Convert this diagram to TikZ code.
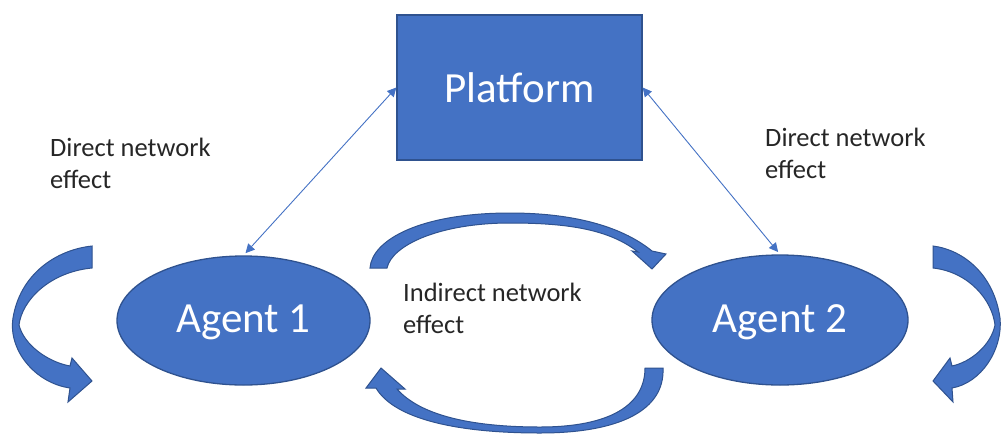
\documentclass[tikz,border=0pt]{standalone}
\usepackage{fontspec}
\setmainfont{Carlito}
\usetikzlibrary{shapes.geometric,arrows.meta}
\definecolor{bfill}{HTML}{4472C4}
\definecolor{bedge}{HTML}{2F528F}
\tikzset{
  bigtxt/.style={text=white,font=\fontsize{43}{52}\selectfont},
  smalltxt/.style={font=\fontsize{26.5}{32}\selectfont,align=left,inner sep=0pt,text=black!85},
  platbox/.style={rectangle,fill=bfill,draw=bedge,line width=1.3pt,minimum width=245pt,minimum height=145pt,inner sep=0pt,bigtxt},
  agentbox/.style={ellipse,fill=bfill,draw=bedge,line width=1.3pt,inner sep=0pt,bigtxt},
  conn/.style={draw=bfill,line width=0.9pt,{Triangle[width=9pt,length=9pt]}-{Triangle[width=9pt,length=9pt]}},
  curvy/.style={fill=bfill,draw=bedge,line width=1pt,line join=miter}
}
\begin{document}
\begin{tikzpicture}[x=1pt,y=-1pt]
\useasboundingbox (0,0) rectangle (1003,434);
\node[platbox] (plat) at (519.5,87.5) {Platform};
\node[agentbox,minimum width=253pt,minimum height=129pt,text depth=3pt] (a1) at (243.5,320.5) {Agent 1};
\node[agentbox,minimum width=256pt,minimum height=130pt,text depth=3pt] (a2) at (780,320) {Agent 2};
\draw[conn,shorten <=3pt] (a1.north) -- (plat.west);
\draw[conn,shorten >=3pt] (plat.east) -- (a2.north);
\node[smalltxt,anchor=base west] (dl) at (50,188) {Direct network\\effect};
\node[smalltxt,anchor=base west] (dr) at (765,178) {Direct network\\effect};
\node[smalltxt,anchor=base west] (ind) at (403,333) {Indirect network\\effect};
% left outer curved arrow
\path[curvy] (92,246) .. controls (55,250) and (20,275) .. (13,318)
  .. controls (8,350) and (35,383) .. (70,388) -- (68,402) -- (92,381) -- (72,358) -- (70,366)
  .. controls (48,362) and (24,345) .. (19,325)
  .. controls (22,300) and (50,272) .. (92,268) -- cycle;
% right outer curved arrow
\path[curvy] (933,246) .. controls (964,250) and (994,275) .. (1000,318)
  .. controls (1003,350) and (981,383) .. (952,388) -- (953,402) -- (933,381) -- (950,358) -- (952,366)
  .. controls (971,362) and (991,345) .. (995,325)
  .. controls (992,300) and (969,272) .. (933,268) -- cycle;
% top middle arrow
\path[curvy] (370,268) .. controls (372,240) and (420,213) .. (510,213)
  .. controls (570,213) and (620,225) .. (652,251) -- (666,254) -- (652,269) -- (632,251) -- (638,252)
  .. controls (610,230) and (570,223) .. (510,223)
  .. controls (440,223) and (392,245) .. (387,268) -- cycle;
% bottom middle arrow
\path[curvy] (663,368) .. controls (665,410) and (620,433) .. (540,433)
  .. controls (460,433) and (395,420) .. (376,388) -- (366,388) -- (381,368) -- (405,389) -- (397,389)
  .. controls (420,415) and (470,427) .. (540,427)
  .. controls (610,427) and (645,405) .. (645,368) -- cycle;
\end{tikzpicture}
\end{document}
